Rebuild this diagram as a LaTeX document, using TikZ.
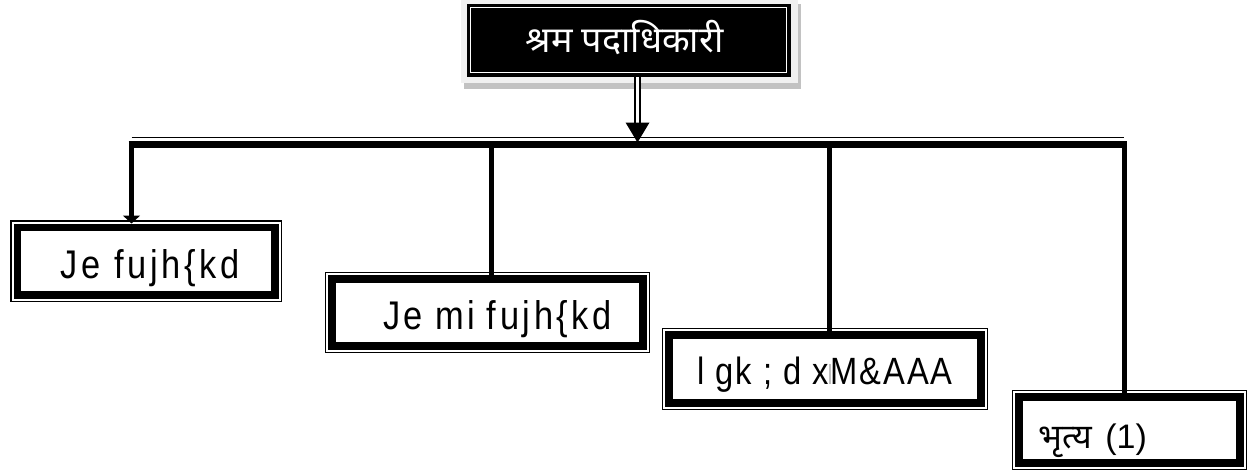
\documentclass[tikz,border=0pt]{standalone}
\usepackage{fontspec}
\setmainfont{Liberation Sans}
\newfontfamily\kd[FakeStretch=0.86, LetterSpace=9]{Liberation Sans}
\newfontfamily\kdn[FakeStretch=0.86, LetterSpace=5]{Liberation Sans}
\newfontfamily\deva[Script=Devanagari]{Noto Sans}
\usetikzlibrary{arrows.meta,calc}
\pgfdeclarelayer{background}
\pgfsetlayers{background,main}
\definecolor{panelgrey}{HTML}{F0F0F0}
\definecolor{shadowgrey}{HTML}{C2C2C2}
\begin{document}
\begin{tikzpicture}[x=1pt,y=-1pt,
  orgbox/.style={rectangle, inner sep=0pt, fill=white, draw=black, line width=7.5pt,
    preaction={draw=black, line width=14.5pt},
    preaction={draw=white, line width=11.5pt},
    font=\kd\fontsize{40}{46}\selectfont, text depth=0pt},
  headbox/.style={rectangle, inner sep=0pt, fill=black, draw=black, line width=1pt,
    text=white, font=\deva\fontsize{36}{42}\selectfont,
    minimum width=323pt, minimum height=72pt},
  link/.style={line width=5pt},
  feed/.style={line width=2.5pt, double=white, double distance=2.5pt},
]
\useasboundingbox (0,0) rectangle (1249,471);

% head post
\node[headbox, text height=24pt, text depth=0pt] (head) at (628.5,40) {\hspace*{-8pt}श्रम पदाधिकारी};
\draw[white, line width=1.5pt] ($(head.north west)+(3.8,3.8)$) rectangle ($(head.south east)+(-3.8,-3.8)$);

% subordinate posts
\node[orgbox, minimum width=257.5pt, minimum height=67.5pt, text height=34pt] (b1) at (146,261)
  {\hspace*{8pt}Je\hspace{14pt}fujh\{kd};
\node[orgbox, minimum width=311pt, minimum height=67pt, text height=34pt] (b2) at (487.5,312.5)
  {\hspace*{20pt}Je\hspace{12pt}mi\hspace{12pt}fujh\{kd};
\node[orgbox, font=\kdn\fontsize{38}{44}\selectfont, minimum width=312pt, minimum height=68pt, text height=30pt] (b3) at (825,369)
  {l gk ; d x\textcolor{black!25}{\rule{2pt}{20pt}}M\&AAA};
\node[orgbox, minimum width=221pt, minimum height=66pt, text height=36pt, text width=182pt, align=left] (b4) at (1129.5,430)
  {{\deva\fontsize{34}{40}\selectfont भृत्य}\ {\rmfamily\fontsize{34}{40}\selectfont(1)}};

% distribution bar
\coordinate (bj) at (637.5,144.5);
\coordinate (bl) at (131.5,144.5);
\coordinate (br) at (1124,144.5);

\begin{pgfonlayer}{background}
  % shadow and panel behind the head post
  \fill[shadowgrey] ($(head.north west)+(-3,0)$) rectangle ($(head.south east)+(10,12)$);
  \fill[panelgrey] ($(head.north west)+(-6,-4)$) rectangle ($(head.south east)+(7,6)$);
  % feed from the head post down to the bar
  \draw[feed] (bj |- head.south) -- ($(bj)+(0,-22)$);
\end{pgfonlayer}

\fill ($(bj)+(-12,-22)$) -- ($(bj)+(12,-22)$) -- ($(bj)+(0,-2)$) -- cycle;

\draw[line width=1.5pt] ($(bl)+(0,-7)$) -- ($(br)+(0,-7)$);
\draw[line width=7pt] ($(bl)+(-3,0)$) -- ($(br)+(3,0)$);

\draw[link, -{Triangle[width=17pt,length=8pt]}] (bl) -- (bl |- b1.north);
\draw[link] (491,144.5) coordinate (t2) -- (t2 |- b2.north);
\draw[link] (829,144.5) coordinate (t3) -- (t3 |- b3.north);
\draw[link] (br) -- (br |- b4.north);
\end{tikzpicture}
\end{document}
